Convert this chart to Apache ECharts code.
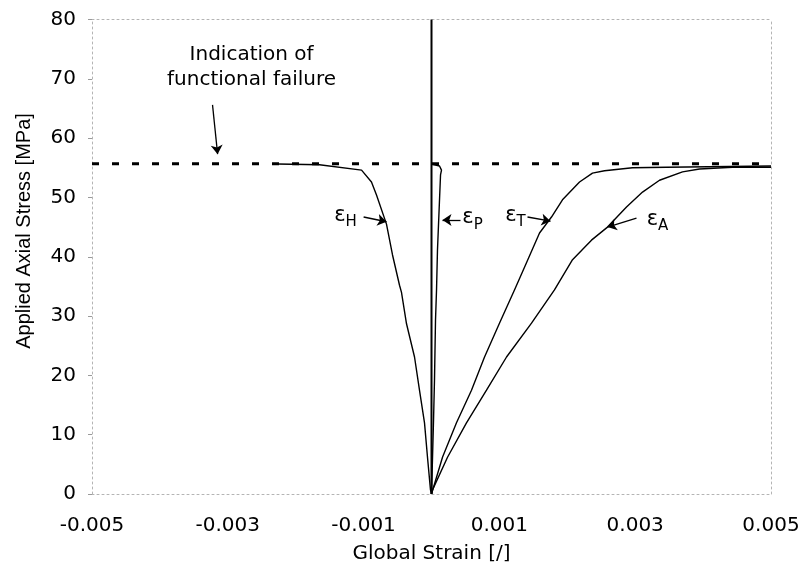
<!DOCTYPE html>
<html>
<head>
<meta charset="utf-8">
<script src="https://cdn.jsdelivr.net/npm/echarts@6/dist/echarts.min.js"></script>
<style>
  html, body { margin: 0; padding: 0; background: #fff; }
  #chart { width: 804px; height: 578px; }
</style>
</head>
<body>
<div id="chart"></div>
<script>
// Axis ticks
const xTickLabels = ['-0.005', '-0.003', '-0.001', '0.001', '0.003', '0.005'];
const yTickValues = [0, 10, 20, 30, 40, 50, 60, 70, 80];

// Functional failure stress level [MPa]
const failureStress = 55.7;

// Hoop strain (eps_H)
const hoopStrain = [0, -0.000015, -0.000059, -0.000103, -0.000177, -0.00025, -0.000368, -0.000442,
  -0.000471, -0.000574, -0.000663, -0.00081, -0.000884, -0.00103, -0.00165, -0.002268];
const hoopStress = [0, 0.7, 6.2, 12.0, 17.5, 23.1, 28.7, 34.0,
  35.2, 40.3, 45.5, 50.4, 52.6, 54.6, 55.5, 55.65];

// Pipe-wall strain (eps_P)
const pipeStrain = [0, 0.00001, 0.00003, 0.000044, 0.000059, 0.000074, 0.000088, 0.000118,
  0.000133, 0.000147, 0.000118, 0.000015];
const pipeStress = [0, 4.0, 12.5, 19.2, 29.3, 34.4, 41.1, 49.6,
  53.8, 54.6, 55.3, 55.6];

// Total strain (eps_T)
const totalStrain = [0, 0.000162, 0.000368, 0.000589, 0.000781, 0.001001, 0.001222, 0.001399,
  0.001591, 0.001767, 0.001929, 0.00218, 0.002371, 0.002548, 0.00296, 0.00346, 0.005];
const totalStress = [0, 6.2, 12.0, 17.5, 23.1, 28.8, 34.4, 39.0,
  44.0, 46.7, 49.6, 52.6, 54.1, 54.5, 55.0, 55.1, 55.3];

// Axial strain (eps_A)
const axialStrain = [0, 0.000015, 0.000236, 0.000515, 0.00081, 0.001105, 0.001473, 0.001811,
  0.002077, 0.002356, 0.002592, 0.002872, 0.003108, 0.003358, 0.003697, 0.003947, 0.004433, 0.005];
const axialStress = [0, 0.7, 6.2, 12.0, 17.5, 23.1, 28.8, 34.4,
  39.5, 42.8, 45.0, 48.4, 50.9, 52.9, 54.3, 54.8, 55.1, 55.1];

// Reference line at zero strain
const zeroLineStress = [0, 80];

// Annotation labels: [strain, stress, key]
const annotationLabels = [
  [-0.00265, 72.0, 'failure'],
  [-0.001267, 46.9, 'H'],
  [0.000604, 46.5, 'P'],
  [0.001237, 46.9, 'T'],
  [0.003328, 46.2, 'A']
];
// Annotation arrows: [fromStrain, fromStress, toStrain, toStress]
const annotationArrows = [
  [-0.003225, 65.6, -0.00315, 57.3],
  [-0.001, 46.7, -0.000663, 45.9],
  [0.000427, 46.2, 0.000162, 46.2],
  [0.001414, 46.7, 0.001753, 46.0],
  [0.003019, 46.5, 0.002592, 45.0]
];

const zip = (xs, ys) => xs.map((x, i) => [x, ys[i]]);

const TEXT_FONT = 'DejaVu Sans';
const curveStyle = { color: '#000', width: 1.4 };

const chart = echarts.init(document.getElementById('chart'), null, { renderer: 'canvas' });

const frameLine = { show: true, onZero: false, lineStyle: { color: '#b4b4b4', type: [2, 3], width: 1 } };
const plain = { color: '#000', textBorderWidth: 0, textShadowBlur: 0 };

chart.setOption({
  animation: false,
  backgroundColor: '#fff',
  grid: { left: 92, right: 33, top: 19.5, bottom: 84, containLabel: false },
  xAxis: [{
    type: 'value',
    min: -0.005, max: 0.005, interval: 0.001,
    name: 'Global Strain [/]',
    nameLocation: 'middle',
    nameGap: 50,
    nameTextStyle: { fontFamily: TEXT_FONT, fontSize: 20, color: '#000' },
    axisLine: frameLine,
    axisTick: { show: false },
    splitLine: { show: false },
    axisLabel: {
      fontFamily: TEXT_FONT, fontSize: 20, color: '#000', margin: 22,
      formatter: v => {
        const s = v.toFixed(3);
        return xTickLabels.includes(s) ? s : '';
      }
    }
  }, {
    type: 'value', position: 'top',
    min: -0.005, max: 0.005,
    axisLine: frameLine, axisTick: { show: false }, axisLabel: { show: false }, splitLine: { show: false }
  }],
  yAxis: [{
    type: 'value',
    min: yTickValues[0], max: yTickValues[yTickValues.length - 1], interval: 10,
    axisLine: frameLine,
    axisTick: { show: true, length: 4, lineStyle: { color: '#9a9a9a' } },
    splitLine: { show: false },
    axisLabel: { fontFamily: TEXT_FONT, fontSize: 20, color: '#000', margin: 16 }
  }, {
    type: 'value', position: 'right',
    min: 0, max: 80,
    axisLine: frameLine, axisTick: { show: false }, axisLabel: { show: false }, splitLine: { show: false }
  }],
  graphic: [{
    type: 'text',
    x: 24, y: 231,
    rotation: Math.PI / 2,
    style: {
      text: 'Applied Axial Stress [MPa]',
      font: '20px "Liberation Sans", Arial, sans-serif',
      fill: '#000',
      align: 'center',
      verticalAlign: 'middle'
    }
  }],
  series: [
    {
      name: 'failure', type: 'line', symbol: 'none', silent: true,
      data: [[-0.005, failureStress], [0.005, failureStress]],
      lineStyle: { color: '#000', width: 3, type: [7, 13] }
    },
    {
      name: 'zero', type: 'line', symbol: 'none', silent: true,
      data: zeroLineStress.map(s => [0, s]),
      lineStyle: { color: '#000', width: 2 }
    },
    { name: 'εH', type: 'line', symbol: 'none', silent: true, data: zip(hoopStrain, hoopStress), lineStyle: curveStyle },
    { name: 'εP', type: 'line', symbol: 'none', silent: true, data: zip(pipeStrain, pipeStress), lineStyle: curveStyle },
    { name: 'εT', type: 'line', symbol: 'none', silent: true, data: zip(totalStrain, totalStress), lineStyle: curveStyle },
    { name: 'εA', type: 'line', symbol: 'none', silent: true, data: zip(axialStrain, axialStress), lineStyle: curveStyle },
    {
      name: 'annotations', type: 'scatter', symbolSize: 0, silent: true,
      itemStyle: { opacity: 1, color: '#000' },
      data: annotationLabels.map(a => ({ value: [a[0], a[1]], key: a[2] })),
      label: Object.assign({
        show: true, position: 'inside',
        fontFamily: TEXT_FONT,
        formatter: p => p.data.key === 'failure'
          ? '{t|Indication of}\n{t|functional failure}'
          : '{e|ε}{s|' + p.data.key + '}',
        rich: {
          t: Object.assign({ fontFamily: TEXT_FONT, fontSize: 20, lineHeight: 25, align: 'center' }, plain),
          e: Object.assign({ fontFamily: TEXT_FONT, fontSize: 21, verticalAlign: 'bottom', lineHeight: 20 }, plain),
          s: Object.assign({ fontFamily: TEXT_FONT, fontSize: 15, verticalAlign: 'bottom', lineHeight: 14, padding: [0, 0, -4, 0] }, plain)
        }
      }, plain),
      markLine: {
        silent: true,
        symbol: ['none', 'arrow'],
        symbolSize: 9,
        label: { show: false },
        lineStyle: { color: '#000', width: 1.3, type: 'solid', opacity: 1 },
        data: annotationArrows.map(a => [
          { coord: [a[0], a[1]] },
          { coord: [a[2], a[3]] }
        ])
      }
    }
  ]
});
</script>
</body>
</html>
